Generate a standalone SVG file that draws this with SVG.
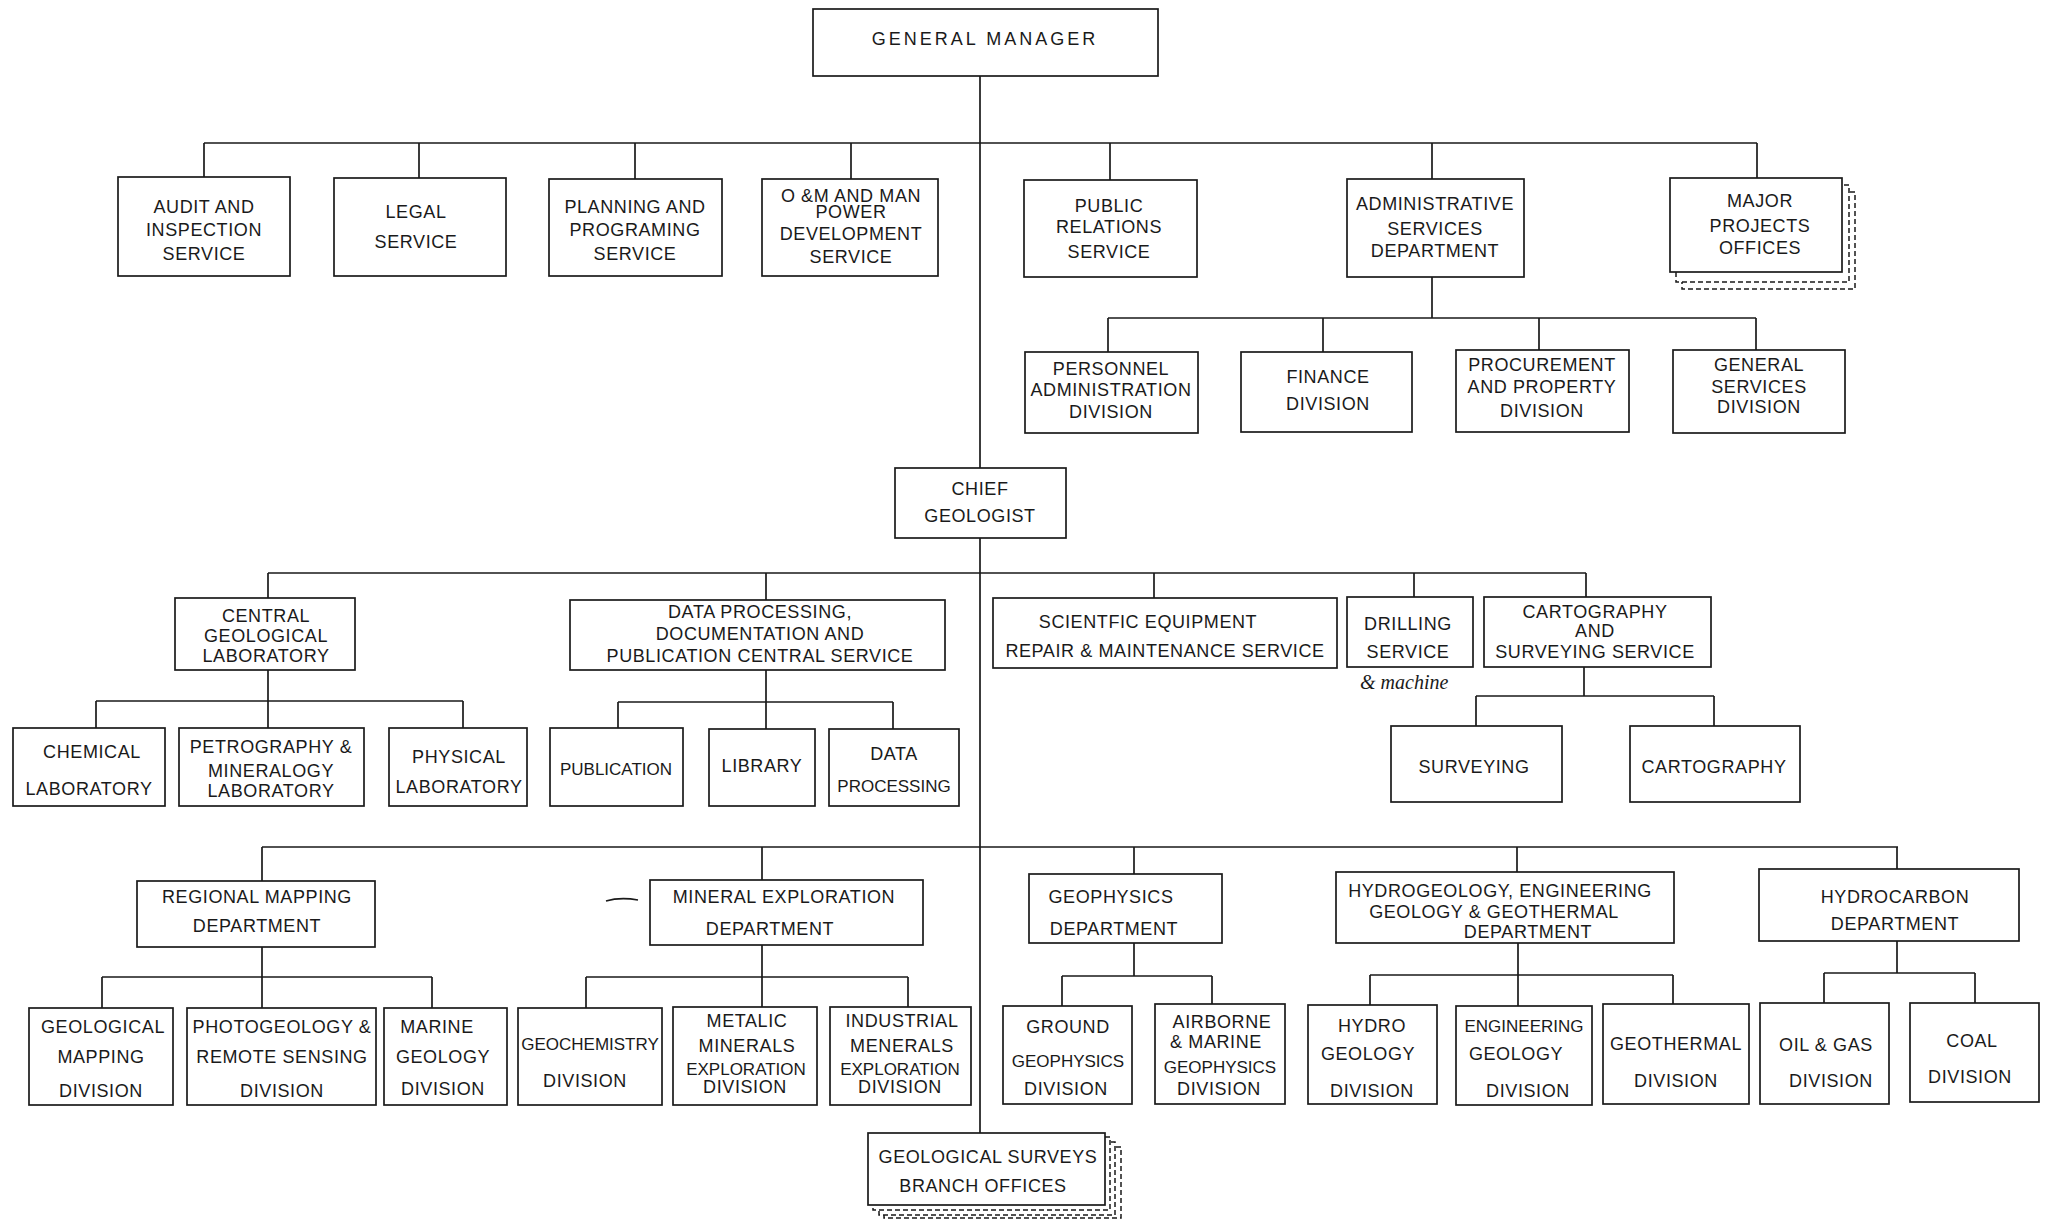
<svg xmlns="http://www.w3.org/2000/svg" width="2053" height="1220" viewBox="0 0 2053 1220">
<style>
.box{fill:#fff;stroke:#1a1a1a;stroke-width:1.7}
.sh{fill:#fff;stroke:#1a1a1a;stroke-width:1.5;stroke-dasharray:5 3}
.c{fill:none;stroke:#1a1a1a;stroke-width:1.7}
text{font-family:"Liberation Sans",Arial,sans-serif;font-size:18px;fill:#1a1a1a;text-anchor:middle;letter-spacing:0.6px}
.gm{letter-spacing:3px}
.n{font-size:17px;letter-spacing:0}
.hw{font-family:"Liberation Serif","Times New Roman",serif;font-style:italic;font-size:20px;text-anchor:start;letter-spacing:0}
</style>
<rect width="2053" height="1220" fill="#fff"/>
<g id="connectors">
<path class="c" d="M980 76V468M980 538V1133"/>
<path class="c" d="M204 143H1757M204 143V177M419 143V178M635 143V179M851 143V179M1110 143V180M1432 143V179M1757 143V178"/>
<path class="c" d="M1432 277V318M1108 318H1756M1108 318V352M1323 318V352M1539 318V350M1756 318V350"/>
<path class="c" d="M268 573H1586M268 573V598M766 573V600M1154 573V598M1414 573V597M1586 573V597"/>
<path class="c" d="M268 670V728M96 701H463M96 701V728M463 701V728"/>
<path class="c" d="M766 670V729M618 702H893M618 702V728M893 702V729"/>
<path class="c" d="M1584 667V696M1476 696H1714M1476 696V726M1714 696V726"/>
<path class="c" d="M262 847H1898M262 847V881M762 847V880M1134 847V874M1517 847V872M1897 847V869"/>
<path class="c" d="M262 947V1008M102 977H432M102 977V1008M432 977V1008"/>
<path class="c" d="M762 945V1007M586 977H908M586 977V1008M908 977V1007"/>
<path class="c" d="M1134 943V976M1062 976H1212M1062 976V1006M1212 976V1004"/>
<path class="c" d="M1518 943V1006M1370 975H1673M1370 975V1005M1673 975V1004"/>
<path class="c" d="M1897 941V973M1824 973H1975M1824 973V1003M1975 973V1003"/>
<path class="c" d="M606 901Q620 897 638 900" stroke-width="1.5"/>
</g>
<g id="general-manager"><rect class="box" x="813" y="9" width="345" height="67"/><text class="gm" x="985" y="45">GENERAL MANAGER</text></g>
<g id="audit"><rect class="box" x="118" y="177" width="172" height="99"/><text x="204" y="213">AUDIT AND</text><text x="204" y="236">INSPECTION</text><text x="204" y="260">SERVICE</text></g>
<g id="legal"><rect class="box" x="334" y="178" width="172" height="98"/><text x="416" y="218">LEGAL</text><text x="416" y="248">SERVICE</text></g>
<g id="planning"><rect class="box" x="549" y="179" width="173" height="97"/><text x="635" y="213">PLANNING AND</text><text x="635" y="236">PROGRAMING</text><text x="635" y="260">SERVICE</text></g>
<g id="om"><rect class="box" x="762" y="179" width="176" height="97"/><text x="851" y="202">O &amp;M AND MAN</text><text x="851" y="218">POWER</text><text x="851" y="240">DEVELOPMENT</text><text x="851" y="263">SERVICE</text></g>
<g id="public-relations"><rect class="box" x="1024" y="180" width="173" height="97"/><text x="1109" y="212">PUBLIC</text><text x="1109" y="233">RELATIONS</text><text x="1109" y="258">SERVICE</text></g>
<g id="admin"><rect class="box" x="1347" y="179" width="177" height="98"/><text x="1435" y="210">ADMINISTRATIVE</text><text x="1435" y="235">SERVICES</text><text x="1435" y="257">DEPARTMENT</text></g>
<g id="major-projects"><rect class="sh" x="1682" y="192" width="173" height="97"/><rect class="sh" x="1676" y="185" width="173" height="97"/><rect class="box" x="1670" y="178" width="172" height="94"/><text x="1760" y="207">MAJOR</text><text x="1760" y="232">PROJECTS</text><text x="1760" y="254">OFFICES</text></g>
<g id="personnel"><rect class="box" x="1025" y="352" width="173" height="81"/><text x="1111" y="375">PERSONNEL</text><text x="1111" y="396">ADMINISTRATION</text><text x="1111" y="418">DIVISION</text></g>
<g id="finance"><rect class="box" x="1241" y="352" width="171" height="80"/><text x="1328" y="383">FINANCE</text><text x="1328" y="410">DIVISION</text></g>
<g id="procurement"><rect class="box" x="1456" y="350" width="173" height="82"/><text x="1542" y="371">PROCUREMENT</text><text x="1542" y="393">AND PROPERTY</text><text x="1542" y="417">DIVISION</text></g>
<g id="general-services"><rect class="box" x="1673" y="350" width="172" height="83"/><text x="1759" y="371">GENERAL</text><text x="1759" y="393">SERVICES</text><text x="1759" y="413">DIVISION</text></g>
<g id="chief-geologist"><rect class="box" x="895" y="468" width="171" height="70"/><text x="980" y="495">CHIEF</text><text x="980" y="522">GEOLOGIST</text></g>
<g id="central-lab"><rect class="box" x="175" y="598" width="180" height="72"/><text x="266" y="622">CENTRAL</text><text x="266" y="642">GEOLOGICAL</text><text x="266" y="662">LABORATORY</text></g>
<g id="data-processing-central"><rect class="box" x="570" y="600" width="375" height="70"/><text x="760" y="618">DATA PROCESSING,</text><text x="760" y="640">DOCUMENTATION  AND</text><text x="760" y="662">PUBLICATION CENTRAL SERVICE</text></g>
<g id="scientific-equipment"><rect class="box" x="993" y="598" width="344" height="70"/><text x="1148" y="628">SCIENTFIC EQUIPMENT</text><text x="1165" y="657">REPAIR &amp; MAINTENANCE SERVICE</text></g>
<g id="drilling"><rect class="box" x="1347" y="597" width="126" height="70"/><text x="1408" y="630">DRILLING</text><text x="1408" y="658">SERVICE</text><text class="hw" x="1360" y="689">&amp; machine</text></g>
<g id="cartography-surveying"><rect class="box" x="1484" y="597" width="227" height="70"/><text x="1595" y="618">CARTOGRAPHY</text><text x="1595" y="637">AND</text><text x="1595" y="658">SURVEYING SERVICE</text></g>
<g id="chemical"><rect class="box" x="13" y="728" width="152" height="78"/><text x="92" y="758">CHEMICAL</text><text x="89" y="795">LABORATORY</text></g>
<g id="petrography"><rect class="box" x="179" y="728" width="185" height="78"/><text x="271" y="753">PETROGRAPHY &amp;</text><text x="271" y="777">MINERALOGY</text><text x="271" y="797">LABORATORY</text></g>
<g id="physical"><rect class="box" x="389" y="728" width="138" height="78"/><text x="459" y="763">PHYSICAL</text><text x="459" y="793">LABORATORY</text></g>
<g id="publication"><rect class="box" x="550" y="728" width="133" height="78"/><text class="n" x="616" y="775">PUBLICATION</text></g>
<g id="library"><rect class="box" x="709" y="729" width="106" height="77"/><text x="762" y="772">LIBRARY</text></g>
<g id="data-processing"><rect class="box" x="829" y="729" width="130" height="77"/><text x="894" y="760">DATA</text><text class="n" x="894" y="792">PROCESSING</text></g>
<g id="surveying"><rect class="box" x="1391" y="726" width="171" height="76"/><text x="1474" y="773">SURVEYING</text></g>
<g id="cartography"><rect class="box" x="1630" y="726" width="170" height="76"/><text x="1714" y="773">CARTOGRAPHY</text></g>
<g id="regional-mapping"><rect class="box" x="137" y="881" width="238" height="66"/><text x="257" y="903">REGIONAL MAPPING</text><text x="257" y="932">DEPARTMENT</text></g>
<g id="mineral-exploration"><rect class="box" x="650" y="880" width="273" height="65"/><text x="784" y="903">MINERAL EXPLORATION</text><text x="770" y="935">DEPARTMENT</text></g>
<g id="geophysics"><rect class="box" x="1029" y="874" width="193" height="69"/><text x="1111" y="903">GEOPHYSICS</text><text x="1114" y="935">DEPARTMENT</text></g>
<g id="hydrogeology"><rect class="box" x="1336" y="872" width="338" height="71"/><text x="1500" y="897">HYDROGEOLOGY,  ENGINEERING</text><text x="1494" y="918">GEOLOGY &amp; GEOTHERMAL</text><text x="1528" y="938">DEPARTMENT</text></g>
<g id="hydrocarbon"><rect class="box" x="1759" y="869" width="260" height="72"/><text x="1895" y="903">HYDROCARBON</text><text x="1895" y="930">DEPARTMENT</text></g>
<g id="geological-mapping"><rect class="box" x="29" y="1008" width="144" height="97"/><text x="103" y="1033">GEOLOGICAL</text><text x="101" y="1063">MAPPING</text><text x="101" y="1097">DIVISION</text></g>
<g id="photogeology"><rect class="box" x="187" y="1008" width="189" height="97"/><text x="282" y="1033">PHOTOGEOLOGY &amp;</text><text x="282" y="1063">REMOTE SENSING</text><text x="282" y="1097">DIVISION</text></g>
<g id="marine-geology"><rect class="box" x="384" y="1008" width="123" height="97"/><text x="437" y="1033">MARINE</text><text x="443" y="1063">GEOLOGY</text><text x="443" y="1095">DIVISION</text></g>
<g id="geochemistry"><rect class="box" x="518" y="1008" width="144" height="97"/><text class="n" x="590" y="1050">GEOCHEMISTRY</text><text x="585" y="1087">DIVISION</text></g>
<g id="metalic-minerals"><rect class="box" x="673" y="1007" width="144" height="98"/><text x="747" y="1027">METALIC</text><text x="747" y="1052">MINERALS</text><text class="n" x="746" y="1075">EXPLORATION</text><text x="745" y="1093">DIVISION</text></g>
<g id="industrial-minerals"><rect class="box" x="830" y="1007" width="141" height="98"/><text x="902" y="1027">INDUSTRIAL</text><text x="902" y="1052">MENERALS</text><text class="n" x="900" y="1075">EXPLORATION</text><text x="900" y="1093">DIVISION</text></g>
<g id="ground-geophysics"><rect class="box" x="1003" y="1006" width="129" height="98"/><text x="1068" y="1033">GROUND</text><text class="n" x="1068" y="1067">GEOPHYSICS</text><text x="1066" y="1095">DIVISION</text></g>
<g id="airborne-marine"><rect class="box" x="1155" y="1004" width="130" height="100"/><text x="1222" y="1028">AIRBORNE</text><text x="1216" y="1048">&amp; MARINE</text><text class="n" x="1220" y="1073">GEOPHYSICS</text><text x="1219" y="1095">DIVISION</text></g>
<g id="hydro-geology"><rect class="box" x="1308" y="1005" width="129" height="99"/><text x="1372" y="1032">HYDRO</text><text x="1368" y="1060">GEOLOGY</text><text x="1372" y="1097">DIVISION</text></g>
<g id="engineering-geology"><rect class="box" x="1456" y="1006" width="136" height="99"/><text class="n" x="1524" y="1032">ENGINEERING</text><text x="1516" y="1060">GEOLOGY</text><text x="1528" y="1097">DIVISION</text></g>
<g id="geothermal"><rect class="box" x="1603" y="1004" width="146" height="100"/><text x="1676" y="1050">GEOTHERMAL</text><text x="1676" y="1087">DIVISION</text></g>
<g id="oil-gas"><rect class="box" x="1760" y="1003" width="129" height="101"/><text x="1826" y="1051">OIL &amp; GAS</text><text x="1831" y="1087">DIVISION</text></g>
<g id="coal"><rect class="box" x="1910" y="1003" width="129" height="99"/><text x="1972" y="1047">COAL</text><text x="1970" y="1083">DIVISION</text></g>
<g id="branch-offices"><rect class="sh" x="884" y="1147" width="237" height="71"/><rect class="sh" x="879" y="1142" width="236" height="73"/><rect class="sh" x="873" y="1137" width="237" height="73"/><rect class="box" x="868" y="1133" width="237" height="72"/><text x="988" y="1163">GEOLOGICAL SURVEYS</text><text x="983" y="1192">BRANCH OFFICES</text></g>
</svg>
